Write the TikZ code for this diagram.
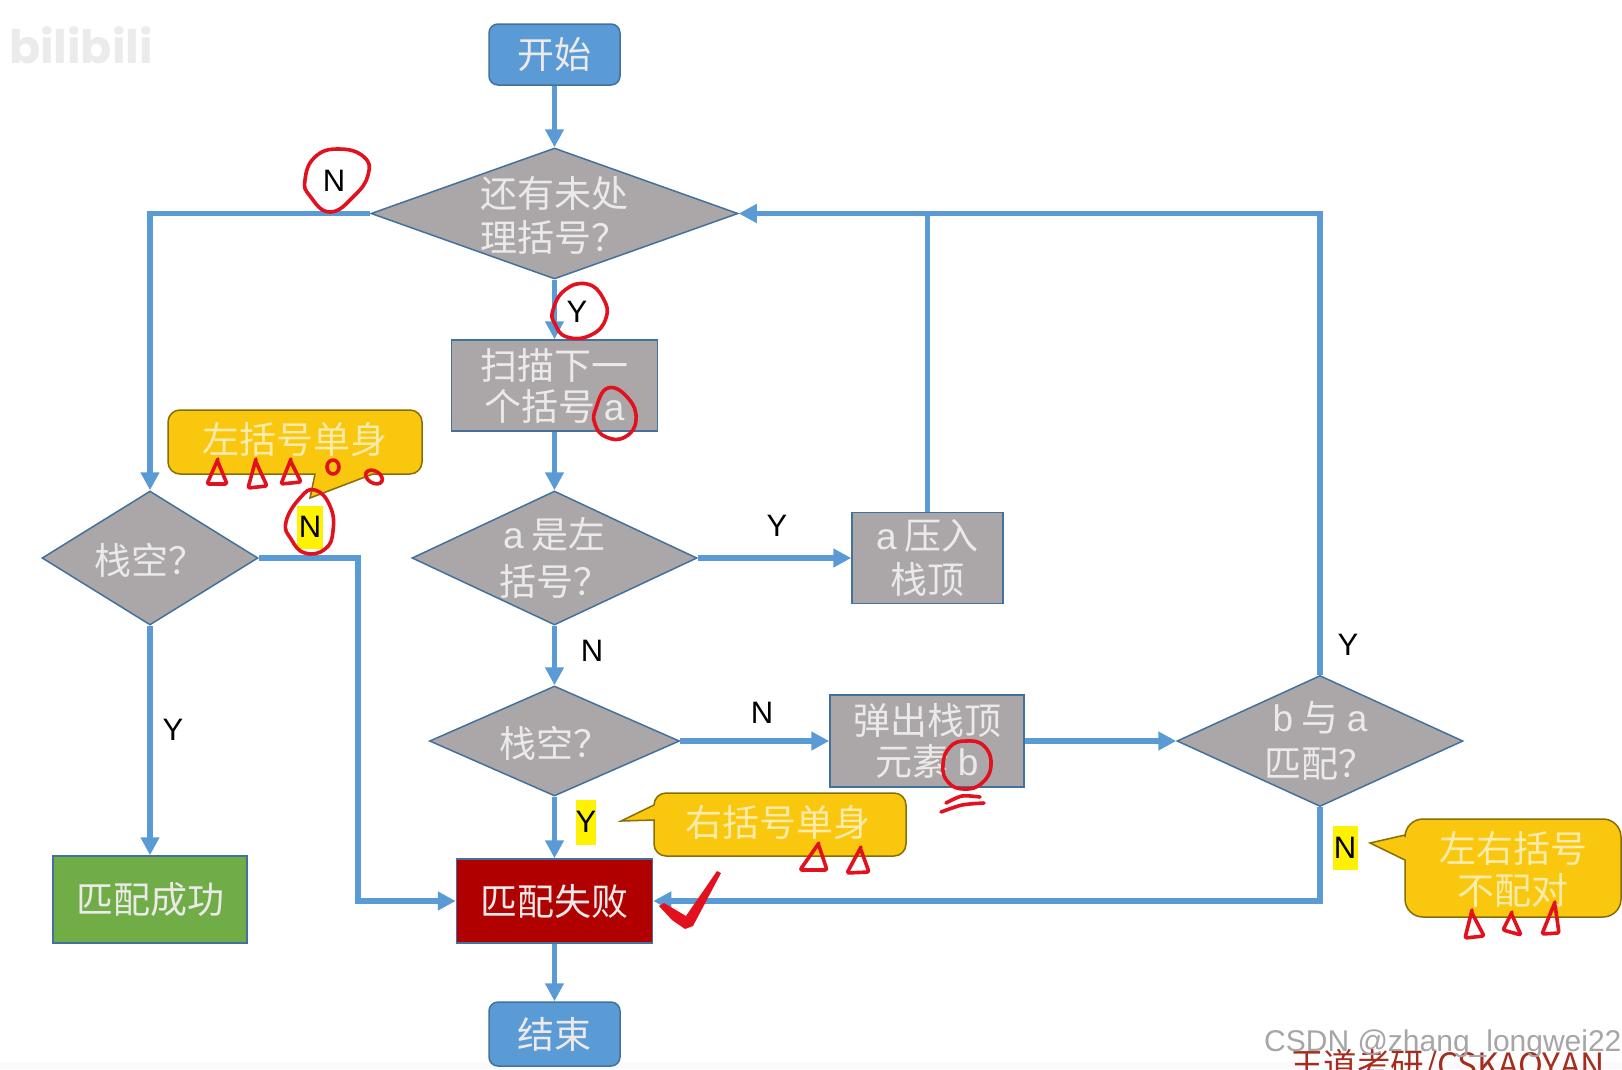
\documentclass[tikz,border=0pt]{standalone}
\usepackage{fontspec}
\setmainfont{Noto Sans CJK SC}
\newfontfamily\latinfont{Liberation Sans}
\newfontfamily\logofont{Poppins}
\usetikzlibrary{shapes.geometric,arrows.meta}
\definecolor{flow}{HTML}{5B9BD5}
\definecolor{edgeblue}{HTML}{41719C}
\definecolor{greybox}{HTML}{ABA7A8}
\definecolor{softwhite}{HTML}{ECE9E9}
\definecolor{callfill}{HTML}{F8C70E}
\definecolor{inkred}{HTML}{E3101E}
\definecolor{okgreen}{HTML}{70AD47}
\definecolor{failred}{HTML}{B00000}
\definecolor{markred}{HTML}{A52D1E}
\newcommand{\cjktext}{\fontsize{37}{41}\selectfont}
\newcommand{\dtext}[2][0pt]{\smash{\makebox[0pt]{\raisebox{\dimexpr-0.35em+#1\relax}{\begin{tabular}{@{}c@{}}#2\end{tabular}}}}}
\tikzset{
  conn/.style={draw=flow,line width=5.5pt},
  arr/.style={conn,-{Triangle[length=18pt,width=18pt]}},
  procbox/.style={rectangle,draw=edgeblue,line width=1.5pt,fill=greybox,text=softwhite,inner sep=0pt,align=center,font=\cjktext},
  termbox/.style={procbox,rounded corners=9pt,fill=flow},
  decbox/.style={diamond,draw=edgeblue,line width=1.5pt,fill=greybox,text=softwhite,inner sep=0pt,font=\cjktext},
  callbody/.style={draw=black!45!callfill,line width=1.5pt,fill=callfill},
  calltext/.style={text=callfill!35!white,inner sep=0pt,align=center,font=\cjktext},
  lab/.style={text=black,inner sep=0pt,font=\fontsize{31}{31}\latinfont},
  hl/.style={lab,fill=yellow},
  ink/.style={draw=inkred,line width=3.6pt,line join=round,line cap=round},
}
\begin{document}
\begin{tikzpicture}[x=1pt,y=-1pt]
\useasboundingbox (0,0) rectangle (1622,1069);
\fill[white] (0,0) rectangle (1622,1069);
\fill[black!2] (0,1062) rectangle (1622,1069);
\node[text=black!8,inner sep=0pt,font=\fontsize{46}{46}\logofont\bfseries] (logo) at (81,45) {bilibili};

% callouts
\path[callbody] (300,410) [rounded corners=12pt] -- (168,410) -- (168,474) [sharp corners] -- (315,474) -- (310,498) -- (373,474) [rounded corners=12pt] -- (422,474) -- (422,410) -- cycle;
\node[calltext] (cl) at (295,440) {左括号单身};
\path[callbody] (780,793) [rounded corners=12pt] -- (654,793) [sharp corners] -- (654,805) -- (621,821) -- (654,820) [rounded corners=12pt] -- (654,856) -- (906,856) -- (906,793) -- cycle;
\node[calltext] (cr) at (778,823) {右括号单身};
\path[callbody] (1500,819) [rounded corners=18pt] -- (1405,819) [sharp corners] -- (1405,835) -- (1370,843) -- (1405,860) [rounded corners=18pt] -- (1405,917) -- (1621,917) -- (1621,819) -- cycle;
\node[calltext,font=\fontsize{37}{42}\selectfont] (cb) at (1513,869) {左右括号\\不配对};

% process nodes
\node[termbox,minimum width=131pt,minimum height=61pt] (start) at (554.5,54.5) {开始};
\node[decbox,minimum width=367pt,minimum height=131pt] (d1) at (554.5,213.5) {\dtext{还有未处\\理括号？}};
\node[procbox,minimum width=206pt,minimum height=91pt] (scan) at (554.5,385.5) {扫描下一\\个括号 {\latinfont a}};
\node[decbox,minimum width=285pt,minimum height=134pt] (da) at (554.5,558) {\dtext[2pt]{{\latinfont a} 是左\\[3pt]括号？}};
\node[procbox,minimum width=151pt,minimum height=91pt] (push) at (927.5,558) {{\latinfont a} 压入\\[3pt]栈顶};
\node[decbox,minimum width=250pt,minimum height=110pt] (ds) at (554.5,741) {\dtext{栈空？}};
\node[procbox,minimum width=194pt,minimum height=92pt] (pop) at (927,741) {弹出栈顶\\元素 {\latinfont b}};
\node[decbox,minimum width=286pt,minimum height=131pt] (dm) at (1320,741) {\dtext[2pt]{{\latinfont b} 与 {\latinfont a}\\[4pt]匹配？}};
\node[decbox,minimum width=216pt,minimum height=134pt] (dl) at (150,558) {\dtext{栈空？}};
\node[procbox,fill=okgreen,minimum width=194pt,minimum height=87pt] (ok) at (150,899.5) {匹配成功};
\node[procbox,fill=failred,minimum width=196pt,minimum height=84pt] (fail) at (554.5,901) {匹配失败};
\node[termbox,minimum width=131pt,minimum height=64pt] (finish) at (554.5,1034) {结束};

% connectors
\coordinate (jt) at (dm.north |- d1.east);
\coordinate (jp) at (push.north |- d1.east);
\coordinate (jl) at (dl.north |- d1.west);
\coordinate (jb) at (dm.south |- fail.east);
\coordinate (jr1) at (358,558);
\coordinate (jr2) at (358,901);
\draw[arr] (start) -- (d1);
\draw[arr] (d1) -- (scan);
\draw[arr] (scan) -- (da);
\draw[arr] (da) -- (push);
\draw[arr] (da) -- (ds);
\draw[arr] (ds) -- (pop);
\draw[arr] (ds) -- (fail);
\draw[arr] (pop) -- (dm);
\draw[arr] (dm.north) -- (jt) -- (d1.east);
\draw[conn] (push.north) -- (jp);
\draw[arr] (dm.south) -- (jb) -- (fail.east);
\draw[arr] (d1.west) -- (jl) -- (dl.north);
\draw[arr] (dl) -- (ok);
\draw[arr] (dl.east) -- (jr1) -- (jr2) -- (fail.west);
\draw[arr] (fail) -- (finish);

% branch labels
\node[lab] (n1) at (334,181) {N};
\node[lab] (y1) at (577,312) {Y};
\node[hl,minimum width=26pt,minimum height=43pt] (n2) at (310,527) {N};
\node[lab] (y2) at (777,526) {Y};
\node[lab] (n3) at (592,651) {N};
\node[lab] (n4) at (762,713) {N};
\node[lab] (y3) at (173,730) {Y};
\node[lab] (y4) at (1348,645) {Y};
\node[hl,minimum width=19pt,minimum height=45pt] (y5) at (586,822) {Y};
\node[hl,minimum width=25pt,minimum height=44pt] (n5) at (1345,848) {N};

% hand-drawn marks
\draw[ink] plot[smooth cycle,tension=0.8] coordinates {(305,180) (315,157) (339,149) (364,157) (368,175) (354,196) (330,212) (310,196)};
\draw[ink] plot[smooth cycle,tension=0.8] coordinates {(553,310) (565,290) (587,284) (603,298) (606,318) (591,335) (567,337) (555,324)};
\draw[ink] plot[smooth cycle,tension=0.8] coordinates {(596,408) (608,388) (628,398) (636,420) (625,437) (606,437) (595,424)};
\draw[ink] plot[smooth cycle,tension=0.8] coordinates {(286,522) (300,498) (315,490) (330,506) (333,531) (325,549) (305,553) (291,539)};
\draw[ink] plot[smooth cycle,tension=0.8] coordinates {(943,765) (950,747) (966,741) (984,746) (991,765) (982,783) (964,789) (948,782)};
\draw[ink,rounded corners=2pt] (218,459) -- (207,484) -- (227,484) -- (218,462);
\draw[ink,rounded corners=2pt] (256,459) -- (248,488) -- (267,486) -- (256,462);
\draw[ink,rounded corners=2pt] (291,459) -- (281,484) -- (301,482) -- (291,462);
\draw[ink] (333,467) ellipse [x radius=6pt,y radius=7pt];
\draw[ink,rotate around={-30:(374,477)}] (374,477) ellipse [x radius=9pt,y radius=6pt];
\draw[ink,rounded corners=2pt] (819,843) -- (800,870) -- (827,870) -- (819,846);
\draw[ink,rounded corners=2pt] (861,847) -- (847,873) -- (869,872) -- (861,850);
\draw[ink,rounded corners=2pt] (1472,910) -- (1465,938) -- (1484,936) -- (1472,913);
\draw[ink,rounded corners=2pt] (1512,912) -- (1503,930) -- (1521,935) -- (1512,915);
\draw[ink,rounded corners=2pt] (1555,902) -- (1542,934) -- (1559,933) -- (1555,905);
\draw[ink] plot[smooth] coordinates {(946,803) (962,796) (980,797)};
\draw[ink] plot[smooth] coordinates {(941,812) (962,805) (984,803)};
\fill[inkred] (659,906) -- (664,903) -- (686,916) -- (717,871) -- (721,873) -- (693,926) -- (685,929) -- (672,920) -- cycle;

% watermarks
\begin{scope}
\clip (0,0) rectangle (1622,1069);
\node[anchor=base west,inner sep=0pt,text=markred,font=\fontsize{33.5}{33.5}\selectfont] (wm2) at (1290,1077) {王道考研/CSKAOYAN};
\end{scope}
\node[anchor=base west,inner sep=0pt,text=black!35,font=\fontsize{30}{30}\latinfont] (wm1) at (1264,1051) {CSDN @zhang\_longwei22};
\end{tikzpicture}
\end{document}
